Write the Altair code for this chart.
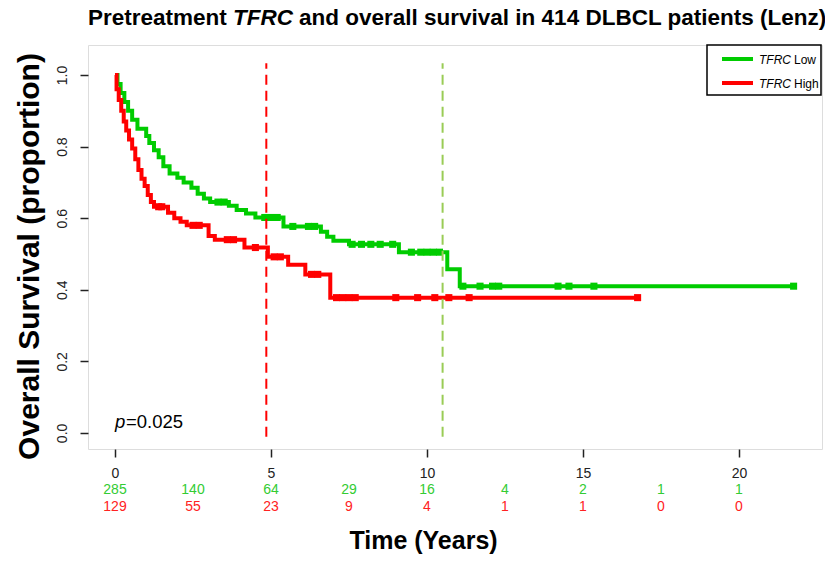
import altair as alt
import pandas as pd

# ---------------- data ----------------
green_t = [0, 0.08, 0.18, 0.3, 0.42, 0.55, 0.72, 1.0, 1.1, 1.25, 1.4, 1.55, 1.75, 2.0, 2.2,
           2.45, 2.65, 2.85, 3.05, 3.65, 3.9, 4.2, 4.5, 5.4, 6.6, 6.8, 7.0, 7.5, 9.1, 10.65,
           11.05, 21.75]
green_s = [1.0, 0.975, 0.95, 0.925, 0.9, 0.875, 0.85, 0.83, 0.81, 0.79, 0.77, 0.745, 0.725,
           0.713, 0.70, 0.685, 0.668, 0.655, 0.645, 0.635, 0.623, 0.613, 0.602, 0.577, 0.562,
           0.548, 0.537, 0.527, 0.505, 0.457, 0.41, 0.41]
red_t = [0, 0.05, 0.12, 0.2, 0.28, 0.36, 0.45, 0.55, 0.65, 0.75, 0.85, 0.95, 1.05, 1.15, 1.25,
         1.7, 1.9, 2.1, 2.3, 3.0, 3.2, 4.15, 4.9, 5.55, 6.1, 6.9, 16.75]
red_s = [1.0, 0.96, 0.93, 0.9, 0.87, 0.845, 0.82, 0.795, 0.765, 0.735, 0.71, 0.69, 0.665, 0.645,
         0.632, 0.615, 0.6, 0.59, 0.58, 0.55, 0.54, 0.518, 0.492, 0.47, 0.443, 0.378, 0.378]
green_cens = [3.3, 3.5, 4.8, 5.0, 5.2, 5.7, 6.2, 6.4, 7.6, 7.9, 8.2, 8.5, 8.9, 9.5, 9.8, 10.0,
              10.2, 10.4, 11.15, 11.7, 12.1, 12.3, 14.2, 14.55, 15.35, 21.75]
red_cens = [1.4, 1.5, 2.5, 2.7, 3.6, 3.8, 4.5, 5.1, 5.3, 6.3, 6.5, 7.1, 7.3, 7.5, 7.7, 9.0, 9.7,
            10.25, 10.7, 11.35, 16.75]
risk_times = [0, 2.5, 5, 7.5, 10, 12.5, 15, 17.5, 20]
risk_low = [285, 140, 64, 29, 16, 4, 2, 1, 1]
risk_high = [129, 55, 23, 9, 4, 1, 1, 0, 0]
x_ticks = [0, 5, 10, 15, 20]
y_ticks = [0.0, 0.2, 0.4, 0.6, 0.8, 1.0]
marker_t = [4.85, 10.5]
marker_group = ["High", "Low"]

GREEN = "#00CC00"
RED = "#FF0000"
SANS = "Liberation Sans, Arial, Helvetica, sans-serif"


def step_at(ts, ss, t):
    v = ss[0]
    for a, b in zip(ts, ss):
        if a <= t:
            v = b
    return v


low_df = pd.DataFrame({"t": green_t, "s": green_s})
high_df = pd.DataFrame({"t": red_t, "s": red_s})
low_c = pd.DataFrame({"t": green_cens, "s": [step_at(green_t, green_s, t) for t in green_cens]})
high_c = pd.DataFrame({"t": red_cens, "s": [step_at(red_t, red_s, t) for t in red_cens]})
risk_df = pd.DataFrame({"t": risk_times, "low": risk_low, "high": risk_high})
marker_df = pd.DataFrame({"t": marker_t, "g": marker_group})

W, H = 734, 404

X = alt.X("t:Q",
          scale=alt.Scale(domain=[-0.865, 22.66], nice=False, zero=False),
          axis=alt.Axis(values=x_ticks, format="d", title="Time (Years)",
                        titleFont=SANS, titleFontSize=25, titleFontWeight="bold",
                        titleColor="black", titleX=335, titleY=91, titleBaseline="middle",
                        titleAlign="center", tickSize=8, tickColor="#222", tickWidth=1.5,
                        labelFont=SANS, labelFontSize=14, labelColor="#222",
                        labelPadding=9, domain=False, grid=False))
Y = alt.Y("s:Q",
          scale=alt.Scale(domain=[-0.045, 1.084], nice=False, zero=False),
          axis=alt.Axis(values=y_ticks, format=".1f", title="Overall Survival (proportion)",
                        titleFont=SANS, titleFontSize=30, titleFontWeight="bold",
                        titleColor="black", titleX=-59, titleY=211, titleBaseline="middle",
                        titleAlign="center", titleAngle=270,
                        tickSize=8, tickColor="#222", tickWidth=1.5,
                        labelFont=SANS, labelFontSize=14, labelColor="#222", labelAngle=270,
                        labelAlign="center", labelBaseline="bottom",
                        labelPadding=11, domain=False, grid=False))

low_line = alt.Chart(low_df).mark_line(interpolate="step-after", color=GREEN, strokeWidth=4,
                                        strokeCap="butt").encode(x=X, y=Y)
high_line = alt.Chart(high_df).mark_line(interpolate="step-after", color=RED, strokeWidth=4,
                                          strokeCap="butt").encode(x=X, y=Y)
low_pts = alt.Chart(low_c).mark_square(color=GREEN, size=50, opacity=1).encode(x=X, y=Y)
high_pts = alt.Chart(high_c).mark_square(color=RED, size=50, opacity=1).encode(x=X, y=Y)

markers = alt.Chart(marker_df).mark_rule(strokeWidth=2, strokeDash=[10, 6]).encode(
    x=X, y=alt.datum(-0.011), y2=alt.datum(1.033),
    color=alt.Color("g:N", scale=alt.Scale(domain=["High", "Low"], range=[RED, "#99CC55"]),
                    legend=None))

risk_low_txt = alt.Chart(risk_df).mark_text(font=SANS, fontSize=14, color="#33CC33",
                                            baseline="middle").encode(
    x=X, y=alt.value(445), text="low:Q")
risk_high_txt = alt.Chart(risk_df).mark_text(font=SANS, fontSize=14, color="#FF2222",
                                             baseline="middle").encode(
    x=X, y=alt.value(462), text="high:Q")

one = pd.DataFrame({"k": [0]})


def label(txt, x, y, baseline="middle", **kw):
    return alt.Chart(one).mark_text(text=txt, align="left", baseline=baseline, **kw).encode(
        x=alt.value(x), y=alt.value(y))


title_parts = [
    label("Pretreatment", 0, -27, font=SANS, fontSize=22.5, fontWeight="bold", color="black"),
    label("TFRC", 145, -27, font=SANS, fontSize=22.5, fontWeight="bold", fontStyle="italic",
          color="black"),
    label("and overall survival in 414 DLBCL patients (Lenz)", 211, -27, font=SANS,
          fontSize=22.5, fontWeight="bold", color="black"),
]

pval = [
    label("p", 27, 383, baseline="alphabetic", font=SANS, fontSize=18.5, fontStyle="italic",
          color="black"),
    label("=0.025", 38, 383, baseline="alphabetic", font=SANS, fontSize=18.5, color="black"),
]

legend_box = alt.Chart(one).mark_rect(fill="white", stroke="black", strokeWidth=1.5).encode(
    x=alt.value(619), x2=alt.value(733), y=alt.value(0), y2=alt.value(50))
legend_lines = [
    alt.Chart(one).mark_rule(color=GREEN, strokeWidth=4).encode(
        x=alt.value(634), x2=alt.value(665), y=alt.value(14)),
    alt.Chart(one).mark_rule(color=RED, strokeWidth=4).encode(
        x=alt.value(634), x2=alt.value(665), y=alt.value(38)),
]
legend_text = [
    label("TFRC", 671, 15, font=SANS, fontSize=12, fontStyle="italic", color="black"),
    label("Low", 706, 15, font=SANS, fontSize=12, color="black"),
    label("TFRC", 671, 39, font=SANS, fontSize=12, fontStyle="italic", color="black"),
    label("High", 706, 39, font=SANS, fontSize=12, color="black"),
]

chart = alt.layer(
    low_line, low_pts, high_line, high_pts, markers, risk_low_txt, risk_high_txt,
    *title_parts, *pval, legend_box, *legend_lines, *legend_text
).properties(
    width=W, height=H, autosize="none",
    padding={"left": 80, "top": 37, "right": 3, "bottom": 105},
).configure_view(stroke="#111", strokeWidth=2).configure(background="white")

chart.save("out.html", embed_options={"renderer": "svg", "actions": False})
